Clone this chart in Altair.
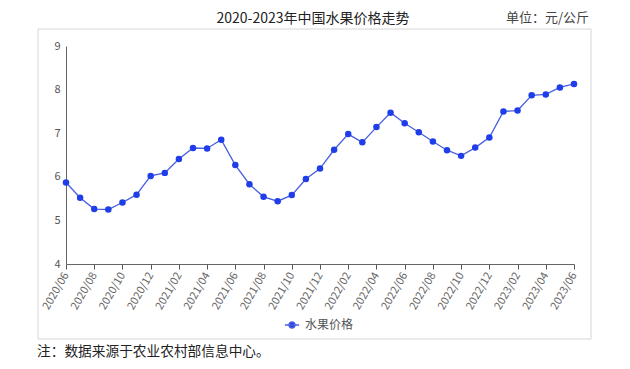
import altair as alt
import pandas as pd

months = ["2020/06", "2020/07", "2020/08", "2020/09", "2020/10", "2020/11", "2020/12",
          "2021/01", "2021/02", "2021/03", "2021/04", "2021/05", "2021/06", "2021/07",
          "2021/08", "2021/09", "2021/10", "2021/11", "2021/12", "2022/01", "2022/02",
          "2022/03", "2022/04", "2022/05", "2022/06", "2022/07", "2022/08", "2022/09",
          "2022/10", "2022/11", "2022/12", "2023/01", "2023/02", "2023/03", "2023/04",
          "2023/05", "2023/06"]
prices = [5.87, 5.52, 5.26, 5.25, 5.41, 5.59, 6.02, 6.09, 6.41, 6.66, 6.65, 6.85, 6.27,
          5.83, 5.54, 5.44, 5.58, 5.95, 6.19, 6.62, 6.98, 6.79, 7.14, 7.47, 7.23, 7.02,
          6.81, 6.61, 6.48, 6.67, 6.90, 7.50, 7.52, 7.87, 7.89, 8.05, 8.13]
tick_labels = months[::2]
y_ticks = [4, 5, 6, 7, 8, 9]
series_name = "水果价格"
title_text = "2020-2023年中国水果价格走势"
unit_text = "单位：元/公斤"
note_text = "注：数据来源于农业农村部信息中心。"

df = pd.DataFrame({"month": months, "price": prices, "series": series_name})

FONT = "Noto Sans CJK SC"
W, H = 508, 218

x_enc = alt.X("month:O", sort=months,
              scale=alt.Scale(type="point", padding=0),
              axis=alt.Axis(values=tick_labels, labelAngle=-60, labelAlign="right",
                            labelBaseline="middle", labelPadding=4, labelFontSize=11,
                            labelColor="#666666", tickColor="#555555", tickSize=5,
                            domainColor="#666666", title=None, grid=False,
                            labelFont=FONT))
y_enc = alt.Y("price:Q", scale=alt.Scale(domain=[4, 9], nice=False),
              axis=alt.Axis(values=y_ticks, ticks=False, labelFontSize=11,
                            labelColor="#555555", domainColor="#666666",
                            labelPadding=6, title=None, grid=False, labelFont=FONT))

legend_path = ("M-1,0L1,0M-0.42,0A0.42,0.42 0 1,1 0.42,0A0.42,0.42 0 1,1 -0.42,0Z")

line = alt.Chart(df).mark_line(strokeWidth=1.3).encode(
    x=x_enc, y=y_enc,
    color=alt.Color("series:N",
                    scale=alt.Scale(domain=[series_name], range=["#4a5fe0"]),
                    legend=alt.Legend(title=None, orient="none", legendX=218, legendY=271,
                                      symbolType=legend_path, symbolSize=200,
                                      symbolStrokeWidth=1.5, symbolFillColor="#1f3de8",
                                      labelFontSize=12, labelColor="#555555",
                                      labelFont=FONT, labelOffset=5))
)
points = alt.Chart(df).mark_point(filled=True, size=42, opacity=1, color="#1f3de8").encode(
    x=x_enc, y=y_enc
)

blank = alt.Data(values=[{"k": 1}])
frame = alt.Chart(blank).mark_rect(fill="transparent", stroke="#d6d6d6", strokeWidth=1).encode(
    x=alt.value(-28), x2=alt.value(525), y=alt.value(-17), y2=alt.value(293)
)
title = alt.Chart(blank).mark_text(font=FONT, fontSize=14, color="#222222",
                                   align="center", baseline="middle").encode(
    x=alt.value(247), y=alt.value(-27), text=alt.value(title_text)
)
unit = alt.Chart(blank).mark_text(font=FONT, fontSize=13, color="#444444",
                                  align="left", baseline="middle").encode(
    x=alt.value(440), y=alt.value(-28), text=alt.value(unit_text)
)
note = alt.Chart(blank).mark_text(font=FONT, fontSize=13.7, color="#222222",
                                  align="left", baseline="middle").encode(
    x=alt.value(-29), y=alt.value(306), text=alt.value(note_text)
)

chart = alt.layer(frame, line, points, title, unit, note).properties(
    width=W, height=H,
    autosize=alt.AutoSizeParams(type="none"),
    padding={"left": 58, "top": 38, "right": 48, "bottom": 102},
).configure_view(stroke=None)

chart.save("out.html", embed_options={"renderer": "svg", "actions": False})
